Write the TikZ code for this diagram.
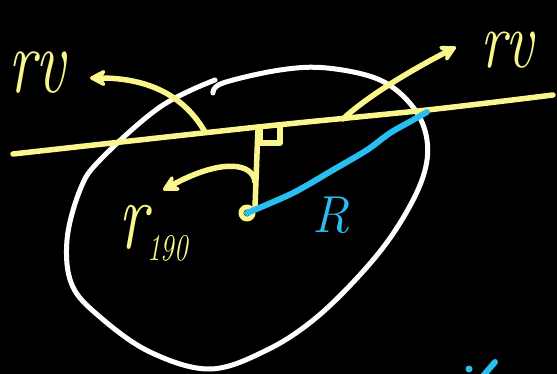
\documentclass[tikz,border=0pt]{standalone}
\usepackage{fontspec}
\usepackage{graphicx}
\usetikzlibrary{arrows.meta}
\definecolor{chalky}{RGB}{250,246,140}
\definecolor{chalkb}{RGB}{40,190,240}
\tikzset{ylw/.style={draw=chalky,line width=5.5pt,line cap=round,line join=round},
 wht/.style={draw=white,line width=5pt,line cap=round},
 blu/.style={draw=chalkb,line width=6pt,line cap=round},
 arr/.style={-{Stealth[length=20pt,width=21pt,round]}},
 lbl/.style={inner sep=0pt,anchor=base west}}

\begin{document}
\begin{tikzpicture}[x=1pt,y=-1pt]
\fill[black] (0,0) rectangle (557,374);
\useasboundingbox (0,0) rectangle (557,374);
% closed surface
\draw[wht] plot[smooth,tension=.6] coordinates{(215,80)(160,107)(100,160)(80,190)(67,240)(72,285)(100,317)
 (150,352)(210,369)(267,350)(317,317)(367,267)(400,223)(423,177)(427,140)(413,107)(380,80)(327,68)(280,70)(223,83)(213,93)};
% line of motion
\coordinate (lend) at (13,154);
\coordinate (lt) at (205,132);
\coordinate (foot) at (258,127);
\coordinate (rt) at (343,119);
\coordinate (rend) at (553,95);
\draw[ylw] plot[smooth] coordinates{(lend)(foot)(427,110)(rend)};
% perpendicular and center
\coordinate (c) at (247,213);
\draw[ylw] (foot)--(255,207);
\draw[ylw] (260,128)--(260,143)--(280,143)--(280,127);
\draw[ylw,line width=5pt] (c) circle (6);
% arrows
\coordinate (ltip) at (90,78);
\coordinate (rtip) at (456,47);
\coordinate (mt) at (255,182);
\coordinate (mtip) at (163,190);
\draw[ylw,arr] (lt) .. controls (185,97) and (150,78) .. (ltip);
\draw[ylw,arr] (rt) .. controls (362,101) and (400,76) .. (rtip);
\draw[ylw,arr] (mt) .. controls (253,163) and (222,158) .. (mtip);
% radius
\coordinate (rim) at (427,112);
\draw[blu] plot[smooth] coordinates{(c)(293,193)(333,170)(367,150)(390,133)(413,120)(rim)};
\coordinate (tk) at (495,362);
\draw[blu] (tk)--(483,376);
\fill[chalkb] (469,369) circle (3.5);
% labels
\node[lbl,text=chalky,font=\fontsize{66}{66}\selectfont\itshape] (rvl) at (8,93) {\scalebox{1}[1.4]{rv}};
\node[lbl,text=chalky,font=\fontsize{62}{62}\selectfont\itshape] (rvr) at (480,68) {\scalebox{1}[1.3]{rv}};
\node[lbl,text=chalkb,font=\fontsize{52}{52}\selectfont\itshape] (rl) at (312,233) {R};
\node[lbl,text=chalky,font=\fontsize{70}{70}\selectfont\itshape] (rperp) at (118,248)
 {\scalebox{1}[1.4]{r\raisebox{-9pt}{\fontsize{27}{27}\selectfont 190}}};
\end{tikzpicture}
\end{document}
